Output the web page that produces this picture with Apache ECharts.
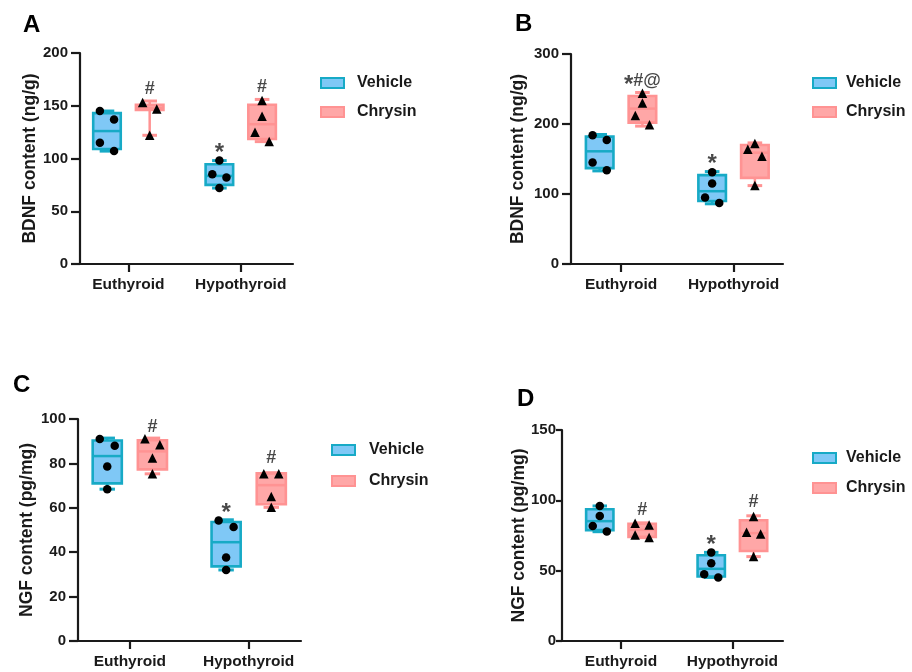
<!DOCTYPE html>
<html>
<head>
<meta charset="utf-8">
<script src="https://cdn.jsdelivr.net/npm/echarts@6/dist/echarts.min.js"></script>
<style>
html,body{margin:0;padding:0;background:#fff;}
#chart{width:912px;height:672px;}
</style>
</head>
<body>
<div id="chart"></div>
<script>
// ---------------- DATA ----------------
const categories = ['Euthyroid', 'Hypothyroid'];
const seriesNames = ['Vehicle', 'Chrysin'];

// Panel A: BDNF content (ng/g) — box = [min, q1, median, q3, max]
const aVehicleBox = [[107, 109, 126, 143, 145], [72, 75, 83.5, 94.5, 98]];
const aChrysinBox = [[122, 146, 148, 151, 154.5], [116, 118.5, 132.5, 151, 156]];
const aVehiclePts = [[145, 137, 115, 107], [98, 85, 82, 72]];
const aChrysinPts = [[153, 147, 122], [155, 140, 125, 116]];
const aMarks = [['Chrysin', 0, '#', 166], ['Chrysin', 1, '#', 168], ['Vehicle', 1, '*', 109]];
const aYTicks = [0, 50, 100, 150, 200];

// Panel B: BDNF content (ng/g)
const bVehicleBox = [[133, 137, 161, 182, 185], [86, 90, 104, 127, 132]];
const bChrysinBox = [[197, 202, 222, 240, 245], [112, 123, 159, 170, 173]];
const bVehiclePts = [[184, 177, 145, 134], [131, 115, 95, 87]];
const bChrysinPts = [[244, 230, 212, 199], [172, 164, 154, 112]];
const bMarks = [['Chrysin', 0, '*#@', 262], ['Vehicle', 1, '*', 149]];
const bYTicks = [0, 100, 200, 300];

// Panel C: NGF content (pg/mg)
const cVehicleBox = [[68.4, 71, 83.3, 90.3, 91.4], [32, 33.6, 44.5, 53.6, 54.6]];
const cChrysinBox = [[75.3, 77.3, 85.4, 90.4, 91.4], [60.2, 61.6, 70.2, 75.5, 75.8]];
const cVehiclePts = [[91, 88, 78.6, 68.4], [54.3, 51.3, 37.6, 32]];
const cChrysinPts = [[91.1, 88.4, 82.4, 75.3], [75.3, 75.3, 65.1, 60.2]];
const cMarks = [['Chrysin', 0, '#', 96.5], ['Chrysin', 1, '#', 82.5], ['Vehicle', 1, '*', 59.5]];
const cYTicks = [0, 20, 40, 60, 80, 100];

// Panel D: NGF content (pg/mg)
const dVehicleBox = [[77.7, 78.8, 85.2, 93.7, 96], [45.2, 45.8, 51.3, 61, 63]];
const dChrysinBox = [[73.5, 74, 79, 83.4, 84], [60, 64, 76.7, 85.8, 89]];
const dVehiclePts = [[96, 88.9, 81.8, 77.8], [63, 55.2, 47.4, 45.2]];
const dChrysinPts = [[83.7, 82.5, 75.4, 73.5], [88.5, 77.3, 76.1, 60]];
const dMarks = [['Chrysin', 0, '#', 93], ['Chrysin', 1, '#', 99], ['Vehicle', 1, '*', 71.5]];
const dYTicks = [0, 50, 100, 150];

const yTitles = ['BDNF content (ng/g)', 'BDNF content (ng/g)', 'NGF content (pg/mg)', 'NGF content (pg/mg)'];
const panelLetters = ['A', 'B', 'C', 'D'];

// ---------------- LAYOUT / STYLE ----------------
const FONT = "'Liberation Sans', Arial, sans-serif";
const TXT = '#1a1a1a';
const STYLE = {
  Vehicle: { fill: '#7fc8f6', stroke: '#17aac6', symbol: 'circle', size: 8.5 },
  Chrysin: { fill: '#ffa7a7', stroke: '#ff9393', symbol: 'triangle', size: 9.5 }
};
const OFFSET = { Vehicle: -0.19, Chrysin: 0.19 };
const BOX_W = 0.245, CAP_W = 0.13, JIT = 0.063;

// jitter pattern of points (visual placement only)
const JITTER = [
  { Vehicle: [[-1, 1, -1, 1], [0, -1, 1, 0]], Chrysin: [[-1, 1, 0], [0, 0, -1, 1]] },
  { Vehicle: [[-1, 1, -1, 1], [0, 0, -1, 1]], Chrysin: [[0, 0, -1, 1], [0, -1, 1, 0]] },
  { Vehicle: [[-1, 1, 0, 0], [-1, 1, 0, 0]], Chrysin: [[-1, 1, 0, 0], [-1, 1, 0, 0]] },
  { Vehicle: [[0, 0, -1, 1], [0, 0, -1, 1]], Chrysin: [[-1, 1, -1, 1], [0, -1, 1, 0]] }
];

const PANELS = [
  { grid: { left: 80, top: 53, width: 213, height: 211 }, xr: [-0.43, 1.465], nameGap: 41,
    letter: [23, 26], legend: { left: 320, top: 75 }, legendGap: 13, legendPad: 8, tickLen: 9, labMargin: 12,
    box: { Vehicle: aVehicleBox, Chrysin: aChrysinBox }, pts: { Vehicle: aVehiclePts, Chrysin: aChrysinPts }, marks: aMarks, ticks: aYTicks },
  { grid: { left: 571, top: 54, width: 212, height: 210 }, xr: [-0.445, 1.44], nameGap: 44,
    letter: [515, 25], legend: { left: 812, top: 75 }, legendGap: 13, legendPad: 5, tickLen: 9, labMargin: 12,
    box: { Vehicle: bVehicleBox, Chrysin: bChrysinBox }, pts: { Vehicle: bVehiclePts, Chrysin: bChrysinPts }, marks: bMarks, ticks: bYTicks },
  { grid: { left: 78, top: 419, width: 223, height: 222 }, xr: [-0.436, 1.44], nameGap: 42,
    letter: [13, 386], legend: { left: 331, top: 442 }, legendGap: 15, legendPad: 9, tickLen: 9, labMargin: 12,
    box: { Vehicle: cVehicleBox, Chrysin: cChrysinBox }, pts: { Vehicle: cVehiclePts, Chrysin: cChrysinPts }, marks: cMarks, ticks: cYTicks },
  { grid: { left: 562, top: 430, width: 221, height: 211 }, xr: [-0.529, 1.454], nameGap: 34,
    letter: [517, 400], legend: { left: 812, top: 450 }, legendGap: 14, legendPad: 5, tickLen: 6, labMargin: 6,
    box: { Vehicle: dVehicleBox, Chrysin: dChrysinBox }, pts: { Vehicle: dVehiclePts, Chrysin: dChrysinPts }, marks: dMarks, ticks: dYTicks }
];

function boxRender(name) {
  const st = STYLE[name];
  return function (params, api) {
    const x = api.value(0);
    const pMin = api.coord([x, api.value(1)]);
    const pQ1 = api.coord([x, api.value(2)]);
    const pMed = api.coord([x, api.value(3)]);
    const pQ3 = api.coord([x, api.value(4)]);
    const pMax = api.coord([x, api.value(5)]);
    const hw = api.size([BOX_W, 0])[0] / 2;
    const cw = api.size([CAP_W, 0])[0] / 2;
    const cx = pMed[0];
    const line = (x1, y1, x2, y2, w) => ({ type: 'line', shape: { x1, y1, x2, y2 }, style: { stroke: st.stroke, lineWidth: w } });
    return {
      type: 'group',
      children: [
        line(cx, pMax[1], cx, pQ3[1], 2.5),
        line(cx, pQ1[1], cx, pMin[1], 2.5),
        line(cx - cw, pMax[1], cx + cw, pMax[1], 3),
        line(cx - cw, pMin[1], cx + cw, pMin[1], 3),
        { type: 'rect', shape: { x: cx - hw, y: pQ3[1], width: hw * 2, height: pQ1[1] - pQ3[1] },
          style: { fill: st.fill, stroke: st.stroke, lineWidth: 2.6 } },
        line(cx - hw, pMed[1], cx + hw, pMed[1], 2.5)
      ]
    };
  };
}

// rich-text the significance marks: asterisks drawn larger
function markText(s) {
  return s.split('').map(ch => ch === '*' ? '{s|*}' : '{n|' + ch + '}').join('');
}

const option = {
  animation: false,
  backgroundColor: '#ffffff',
  textStyle: { fontFamily: FONT },
  grid: [], xAxis: [], yAxis: [], series: [], legend: [], graphic: []
};

PANELS.forEach((p, i) => {
  option.grid.push(Object.assign({ containLabel: false }, p.grid));
  const tickArr = p.ticks;
  option.xAxis.push({
    type: 'value', gridIndex: i, min: p.xr[0], max: p.xr[1],
    splitLine: { show: false },
    axisLine: { show: true, onZero: false, lineStyle: { color: TXT, width: 2.2 } },
    axisTick: { show: true, customValues: [0, 1], length: 8, lineStyle: { color: TXT, width: 2.2 } },
    axisLabel: { show: true, customValues: [0, 1], formatter: v => categories[Math.round(v)] || '',
      color: TXT, fontWeight: 'bold', fontSize: 15.5, margin: 13, fontFamily: FONT }
  });
  option.yAxis.push({
    type: 'value', gridIndex: i, min: tickArr[0], max: tickArr[tickArr.length - 1],
    interval: tickArr[1] - tickArr[0],
    name: yTitles[i], nameLocation: 'middle', nameRotate: 90, nameGap: p.nameGap,
    nameMoveOverlap: false,
    nameTextStyle: { color: TXT, fontWeight: 'bold', fontSize: 17.5, fontFamily: FONT },
    splitLine: { show: false },
    axisLine: { show: true, onZero: false, lineStyle: { color: TXT, width: 2.2 } },
    axisTick: { show: true, length: p.tickLen, lineStyle: { color: TXT, width: 2.2 } },
    axisLabel: { color: TXT, fontWeight: 'bold', fontSize: 15, margin: p.labMargin, fontFamily: FONT }
  });

  seriesNames.forEach(name => {
    const st = STYLE[name];
    option.series.push({
      type: 'custom', name, xAxisIndex: i, yAxisIndex: i, z: 2,
      renderItem: boxRender(name),
      encode: { x: 0, y: [1, 2, 3, 4, 5] },
      itemStyle: { color: st.fill, borderColor: st.stroke },
      data: p.box[name].map((b, ci) => [ci + OFFSET[name]].concat(b))
    });
    const pts = [];
    p.pts[name].forEach((arr, ci) => arr.forEach((v, k) => {
      pts.push([ci + OFFSET[name] + JITTER[i][name][ci][k] * JIT, v]);
    }));
    option.series.push({
      type: 'scatter', name, xAxisIndex: i, yAxisIndex: i, z: 5,
      symbol: st.symbol, symbolSize: st.size,
      itemStyle: { color: '#000', opacity: 1 },
      data: pts
    });
  });

  option.series.push({
    type: 'scatter', name: 'marks' + i, xAxisIndex: i, yAxisIndex: i, z: 6,
    symbolSize: 1, itemStyle: { color: 'rgba(0,0,0,0)' },
    label: { show: true, position: 'inside', formatter: d => markText(d.data[2]),
      rich: {
        s: { fontSize: 24, fontWeight: 'bold', color: TXT, fontFamily: FONT, padding: [9, 0, 0, 0] },
        n: { fontSize: 18, fontWeight: 'bold', color: TXT, fontFamily: FONT }
      } },
    data: p.marks.map(m => [m[1] + OFFSET[m[0]], m[3], m[2]])
  });

  option.legend.push({
    orient: 'vertical', left: p.legend.left, top: p.legend.top, padding: 0,
    itemWidth: 23, itemHeight: 10, itemGap: p.legendGap,
    selectedMode: false,
    textStyle: { color: TXT, fontWeight: 'bold', fontSize: 16, fontFamily: FONT, padding: [0, 0, 0, p.legendPad] },
    data: seriesNames.map(n => ({ name: n, icon: 'rect',
      itemStyle: { color: STYLE[n].fill, borderColor: STYLE[n].stroke, borderWidth: 2 } }))
  });

  option.graphic.push({
    type: 'text', left: p.letter[0], top: p.letter[1] - 13,
    style: { text: panelLetters[i], fill: '#000', font: "bold 24px 'Liberation Sans', Arial, sans-serif" }
  });
});

const chart = echarts.init(document.getElementById('chart'), null, { renderer: 'canvas' });
chart.setOption(option);
</script>
</body>
</html>
